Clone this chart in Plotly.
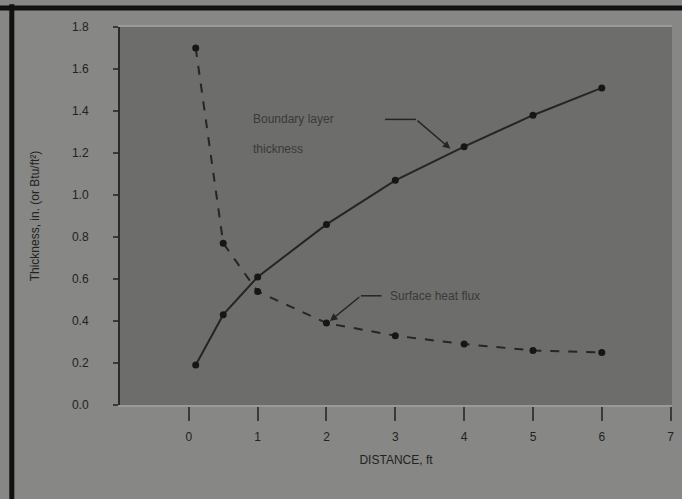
import plotly.graph_objects as go

# distance along the plate
distance = [0.1, 0.5, 1, 2, 3, 4, 5, 6]

# boundary layer thickness (solid) and surface heat flux (dashed)
thickness = [0.19, 0.43, 0.61, 0.86, 1.07, 1.23, 1.38, 1.51]
heat_flux = [1.70, 0.77, 0.54, 0.39, 0.33, 0.29, 0.26, 0.25]

x_ticks = [0, 1, 2, 3, 4, 5, 6, 7]
y_ticks = [0.0, 0.2, 0.4, 0.6, 0.8, 1.0, 1.2, 1.4, 1.6, 1.8]

ink = "#252524"
label_col = "#3a3a38"

fig = go.Figure()

fig.add_trace(go.Scatter(
    x=distance, y=thickness,
    mode="lines+markers",
    line=dict(color=ink, width=2),
    marker=dict(color="#161616", size=7),
    name="Boundary layer thickness",
))

fig.add_trace(go.Scatter(
    x=distance, y=heat_flux,
    mode="lines+markers",
    line=dict(color=ink, width=2, dash="dash"),
    marker=dict(color="#161616", size=7),
    name="Surface heat flux",
))

# leader for the boundary layer label
fig.add_annotation(
    x=3.8, y=1.22, ax=3.3, ay=1.36, axref="x", ayref="y",
    showarrow=True, arrowhead=2, arrowsize=1, arrowwidth=1.5, arrowcolor=ink,
    text="",
)
fig.add_shape(type="line", x0=2.85, x1=3.3, y0=1.36, y1=1.36,
              line=dict(color=ink, width=1.5))
fig.add_annotation(
    x=0.9, y=1.36, xanchor="left", yanchor="middle",
    text="Boundary layer", showarrow=False,
    font=dict(size=12, color=label_col),
)
fig.add_annotation(
    x=0.9, y=1.22, xanchor="left", yanchor="middle",
    text="thickness", showarrow=False,
    font=dict(size=12, color=label_col),
)

# leader for the heat flux label
fig.add_annotation(
    x=2.05, y=0.4, ax=2.5, ay=0.52, axref="x", ayref="y",
    showarrow=True, arrowhead=2, arrowsize=1, arrowwidth=1.5, arrowcolor=ink,
    text="",
)
fig.add_shape(type="line", x0=2.5, x1=2.8, y0=0.52, y1=0.52,
              line=dict(color=ink, width=1.5))
fig.add_annotation(
    x=2.9, y=0.52, xanchor="left", yanchor="middle",
    text="Surface heat flux", showarrow=False,
    font=dict(size=12, color=label_col),
)

# photo frame edges
fig.add_shape(type="line", xref="paper", yref="paper",
              x0=-0.196, x1=-0.196, y0=-0.25, y1=1.06,
              line=dict(color="#111111", width=5))
fig.add_shape(type="line", xref="paper", yref="paper",
              x0=-0.22, x1=1.03, y0=1.05, y1=1.05,
              line=dict(color="#111111", width=5))

fig.update_layout(
    width=682, height=499,
    margin=dict(l=120, r=10, t=27, b=94),
    paper_bgcolor="#878785",
    plot_bgcolor="#6d6d6b",
    showlegend=False,
    font=dict(family="Liberation Sans, Arial", size=12, color="#222221"),
)

fig.update_xaxes(
    range=[-1, 7.02], tickvals=x_ticks, automargin=False,
    ticks="outside", ticklen=14, tickwidth=1.5, tickcolor="#3a3a38",
    ticklabelstandoff=6,
    showgrid=False, zeroline=False,
    showline=True, linecolor="#9a9a98", linewidth=2, mirror=True,
    title=dict(text="DISTANCE, ft", standoff=12, font=dict(size=12)),
)
fig.update_yaxes(
    range=[0, 1.8], tickvals=y_ticks, tickformat=".1f", automargin=False,
    ticks="outside", ticklen=5, tickwidth=1.5, tickcolor="#3a3a38",
    ticklabelstandoff=22,
    showgrid=False, zeroline=False,
    showline=True, linecolor="#2a2a28", linewidth=2, mirror=False,
    title=dict(text="Thickness, in. (or Btu/ft²)", standoff=30, font=dict(size=12)),
)

# drop the page's default body margin so the figure fills the window
fig.write_html(
    "out.html",
    config={"displayModeBar": False},
    post_script="document.body.style.margin = '0';",
)
